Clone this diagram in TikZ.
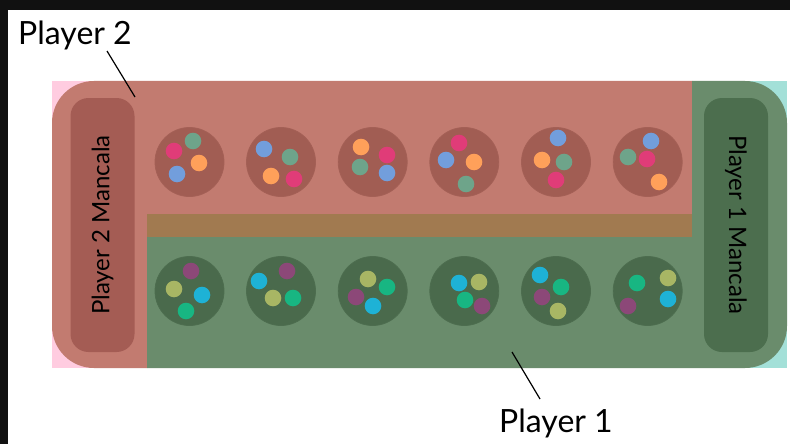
\documentclass[tikz,border=0pt]{standalone}
\usepackage{fontspec}
\setmainfont{Lato}
\definecolor{frame}{RGB}{17,17,17}
\definecolor{bgpink}{RGB}{255,204,224}
\definecolor{bgteal}{RGB}{163,224,216}
\definecolor{boardred}{RGB}{194,123,112}
\definecolor{pitred}{RGB}{161,93,83}
\definecolor{mancred}{RGB}{164,92,84}
\definecolor{boardgreen}{RGB}{106,140,108}
\definecolor{pitgreen}{RGB}{74,106,76}
\definecolor{mancgreen}{RGB}{76,110,78}
\definecolor{brownstrip}{RGB}{161,122,80}
\definecolor{spink}{RGB}{224,60,120}
\definecolor{ssage}{RGB}{110,164,138}
\definecolor{sorange}{RGB}{255,160,90}
\definecolor{sblue}{RGB}{114,158,220}
\definecolor{spurple}{RGB}{140,72,120}
\definecolor{solive}{RGB}{168,182,100}
\definecolor{scyan}{RGB}{30,178,214}
\definecolor{semerald}{RGB}{24,182,130}
\tikzset{
  pitR/.style={circle,fill=pitred,draw=pitred!90!boardred,line width=0.8pt,minimum size=69pt,inner sep=0pt},
  pitG/.style={circle,fill=pitgreen,draw=pitgreen!90!boardgreen,line width=0.8pt,minimum size=69pt,inner sep=0pt},
  mancR/.style={rectangle,rounded corners=18pt,fill=mancred,minimum width=64pt,minimum height=254pt,inner sep=0pt},
  mancG/.style={rectangle,rounded corners=18pt,fill=mancgreen,minimum width=64pt,minimum height=254pt,inner sep=0pt},
  mtext/.style={font=\fontsize{24}{28}\selectfont,text=black},
  plabel/.style={font=\fontsize{32}{36}\selectfont,text=black,inner sep=0pt,anchor=base west},
  leader/.style={line width=1.2pt,black}
}
\newcommand{\stone}[3]{\fill[#1] (#2,#3) circle (8.3);}
\begin{document}
\begin{tikzpicture}[x=1pt,y=-1pt]
\useasboundingbox (0,0) rectangle (790,444);
\fill[white] (0,0) rectangle (790,444);
\fill[frame] (0,0) rectangle (790,10);
\fill[frame] (0,0) rectangle (8,444);
% background corners
\fill[bgpink] (52,81) rectangle (420,368);
\fill[bgteal] (420,81) rectangle (787,368);
% red L
\fill[boardred] (692,81) -- (692,214) -- (147,214) -- (147,368) -- (94,368)
  arc[start angle=270,end angle=180,radius=42pt] -- (52,123)
  arc[start angle=180,end angle=90,radius=42pt] -- cycle;
% green L
\fill[boardgreen] (147,237) -- (692,237) -- (692,81) -- (745,81)
  arc[start angle=90,end angle=0,radius=42pt] -- (787,326)
  arc[start angle=0,end angle=-90,radius=42pt] -- (147,368) -- cycle;
% brown strip
\fill[brownstrip] (147,214) rectangle (692,237);
% mancalas
\node[mancR] (m2) at (102.5,225) {};
\node[mtext,rotate=90] (m2t) at (m2) {Player 2 Mancala};
\node[mancG] (m1) at (736,225) {};
\node[mtext,rotate=-90] (m1t) at (m1) {Player 1 Mancala};
% pits
\node[pitR] (t1) at (189.5,162) {};
\node[pitR] (t2) at (281,162) {};
\node[pitR] (t3) at (372.7,162) {};
\node[pitR] (t4) at (464.3,162) {};
\node[pitR] (t5) at (556,162) {};
\node[pitR] (t6) at (647.7,162) {};
\node[pitG] (b1) at (189.5,291) {};
\node[pitG] (b2) at (281,291) {};
\node[pitG] (b3) at (372.7,291) {};
\node[pitG] (b4) at (464.3,291) {};
\node[pitG] (b5) at (556,291) {};
\node[pitG] (b6) at (647.7,291) {};
% stones top row
\stone{spink}{174}{151}\stone{ssage}{193}{141}\stone{sorange}{199}{163}\stone{sblue}{177}{174}
\stone{sblue}{264}{149}\stone{ssage}{290}{157}\stone{sorange}{271}{176}\stone{spink}{294}{179}
\stone{sorange}{361}{147}\stone{spink}{387}{155}\stone{ssage}{360}{167}\stone{sblue}{387}{173}
\stone{spink}{459}{143}\stone{sblue}{446}{160}\stone{sorange}{474}{162}\stone{ssage}{466}{184}
\stone{sblue}{558}{138}\stone{sorange}{542}{160}\stone{ssage}{564}{162}\stone{spink}{556}{180}
\stone{sblue}{651}{141}\stone{ssage}{628}{157}\stone{spink}{647}{159}\stone{sorange}{659}{182}
% stones bottom row
\stone{spurple}{191}{271}\stone{solive}{174}{289}\stone{scyan}{202}{295}\stone{semerald}{186}{311}
\stone{scyan}{259}{281}\stone{spurple}{287}{271}\stone{solive}{273}{298}\stone{semerald}{293}{298}
\stone{solive}{368}{279}\stone{semerald}{387}{287}\stone{spurple}{356}{297}\stone{scyan}{373}{306}
\stone{scyan}{459}{283}\stone{solive}{479}{282}\stone{semerald}{465}{300}\stone{spurple}{482}{306}
\stone{scyan}{540}{275}\stone{semerald}{561}{287}\stone{spurple}{542}{297}\stone{solive}{558}{311}
\stone{semerald}{637}{283}\stone{solive}{668}{278}\stone{scyan}{668}{299}\stone{spurple}{628}{306}
% labels
\node[plabel] (p2) at (18,45) {Player 2};
\node[plabel] (p1) at (499,432) {Player 1};
\coordinate (p2a) at (107,51);
\coordinate (p2b) at (135,97);
\coordinate (p1a) at (540,399);
\coordinate (p1b) at (512,352);
\draw[leader] (p2a) -- (p2b);
\draw[leader] (p1a) -- (p1b);
\end{tikzpicture}
\end{document}
